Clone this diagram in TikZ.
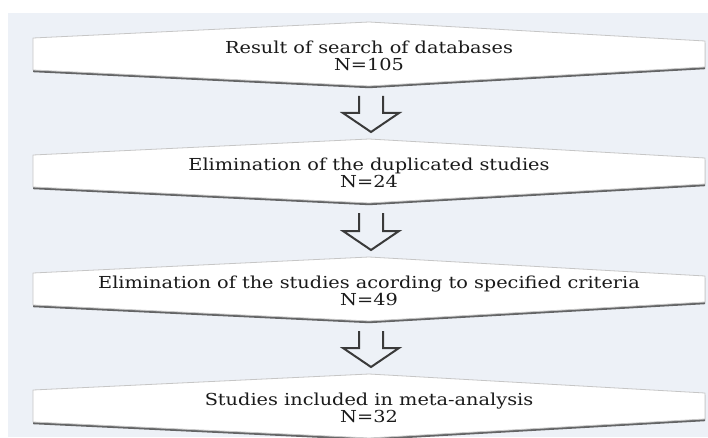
\documentclass[tikz,border=0pt]{standalone}
\usepackage{fontspec}
\setmainfont{DejaVu Serif}[FakeStretch=1.17]
\usepackage{tikz}
\usetikzlibrary{calc}
\usetikzlibrary{backgrounds,shadows}

\definecolor{panelbg}{HTML}{EDF1F7}
\definecolor{arrowgray}{HTML}{3A3A3A}
\definecolor{inkgray}{HTML}{1A1A1A}

\begin{document}
\begin{tikzpicture}[x=1pt, y=1pt,
    stage text/.style={align=center, inner sep=0pt, text=inkgray,
      font=\fontsize{16.5}{16.5}\selectfont},
    stage box/.style={fill=white, draw=gray!45, line width=0.8pt, line join=round,
      drop shadow={shadow xshift=0pt, shadow yshift=-2.2pt, opacity=0.85, fill=black!70}},
    flow arrow/.style={draw=arrowgray, line width=2pt, line join=miter},
  ]
  \useasboundingbox (0,0) rectangle (708,437);

  \node[stage text] (s1) at (369,381) {Result of search of databases\\N=105};
  \node[stage text] (s2) at (369,264) {Elimination of the duplicated studies\\N=24};
  \node[stage text] (s3) at (369,146) {Elimination of the studies acording to specified criteria\\N=49};
  \node[stage text] (s4) at (369,29)  {Studies included in meta-analysis\\N=32};

  \begin{scope}[on background layer]
    \fill[panelbg] (8,0) rectangle (708,424);
    \foreach \s in {s1,s2,s3,s4}
      \path[stage box] ($(\s)+(-336,18)$) -- ($(\s)+(0,34)$) -- ($(\s)+(336,15)$)
        -- ($(\s)+(336,-11)$) -- ($(\s)+(0,-30)$) -- ($(\s)+(-336,-14)$) -- cycle;
  \end{scope}

  \foreach \a/\b in {s1/s2,s2/s3,s3/s4}
    \draw[flow arrow] ($(\a)+(-10,-40)$) -- ($(\b)+(-10,60)$) -- ($(\b)+(-26,60)$)
      -- ($(\b)+(2,41)$) -- ($(\b)+(30,60)$) -- ($(\b)+(14,60)$) -- ($(\a)+(14,-40)$);

\end{tikzpicture}
\end{document}
